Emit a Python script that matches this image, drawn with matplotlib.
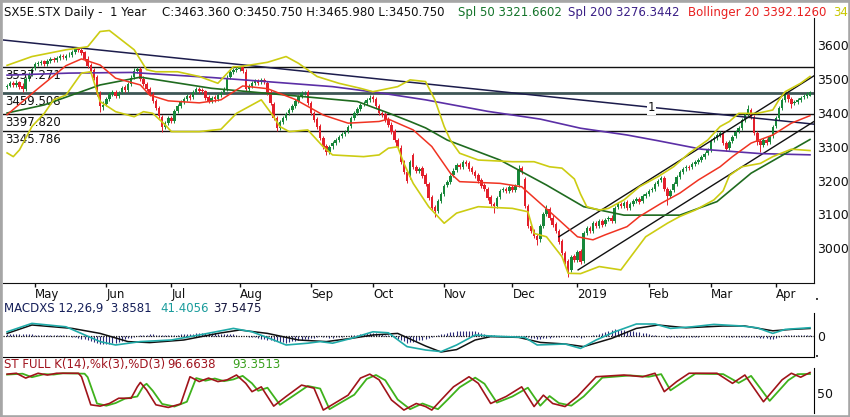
import numpy as np
import pandas as pd
import matplotlib
matplotlib.use('Agg')
import matplotlib.pyplot as plt
from matplotlib.patches import Rectangle

W, H = 850, 417

# daily candles, 18 Apr 2018 .. 16 Apr 2019
opens = [
    3478, 3481, 3490, 3483, 3491, 3480, 3472, 3502, 3516, 3532,
    3544, 3547, 3553, 3546, 3554, 3561, 3557, 3563, 3569, 3564,
    3571, 3573, 3581, 3591, 3586, 3579, 3561, 3542, 3526, 3506,
    3457, 3418, 3426, 3441, 3456, 3463, 3451, 3461, 3476, 3469,
    3486, 3506, 3524, 3531, 3501, 3486, 3471, 3456, 3436, 3414,
    3388, 3358, 3371, 3386, 3376, 3406, 3421, 3433, 3441, 3451,
    3446, 3463, 3471, 3467, 3464, 3446, 3436, 3446, 3441, 3453,
    3461, 3471, 3506, 3521, 3528, 3531, 3536, 3522, 3471, 3481,
    3489, 3496, 3491, 3499, 3490, 3461, 3428, 3386, 3356, 3373,
    3386, 3399, 3409, 3421, 3436, 3449, 3459, 3461, 3431, 3401,
    3381, 3361, 3326, 3301, 3286, 3301, 3311, 3321, 3331, 3339,
    3346, 3361, 3386, 3401, 3413, 3426, 3431, 3439, 3446, 3441,
    3421, 3401, 3396, 3381, 3366, 3346, 3321, 3298, 3256, 3226,
    3210, 3275, 3241, 3228, 3236, 3216, 3191, 3151, 3121, 3111,
    3141, 3161, 3186, 3196, 3216, 3231, 3246, 3241, 3256, 3251,
    3236, 3226, 3216, 3201, 3186, 3176, 3151, 3131, 3126, 3151,
    3171, 3176, 3169, 3181, 3173, 3186, 3236, 3205, 3126, 3066,
    3051, 3036, 3026, 3066, 3101, 3116, 3091, 3071, 3051, 3021,
    2986, 2961, 2936, 2976, 2966, 2991, 2961, 3046, 3061, 3051,
    3076, 3066, 3081, 3071, 3086, 3091, 3081, 3121, 3131, 3126,
    3136, 3119, 3131, 3141, 3146, 3139, 3156, 3161, 3171, 3176,
    3191, 3201, 3209, 3176, 3156, 3171, 3191, 3211, 3226, 3236,
    3241, 3239, 3249, 3256, 3261, 3271, 3281, 3291, 3319, 3326,
    3336, 3341, 3311, 3296, 3316, 3331, 3346, 3356, 3379, 3396,
    3410, 3389, 3341, 3316, 3306, 3321, 3313, 3331, 3361, 3386,
    3416, 3439, 3453, 3441, 3429, 3433, 3439, 3446, 3451, 3450.75,
]
highs = [
    3486, 3494, 3495, 3497, 3496, 3488, 3506, 3521, 3536, 3550,
    3554, 3557, 3558, 3561, 3566, 3566, 3569, 3574, 3575, 3576,
    3579, 3586, 3596, 3595, 3592, 3584, 3568, 3549, 3532, 3512,
    3465, 3436, 3447, 3461, 3469, 3468, 3466, 3481, 3483, 3491,
    3511, 3532, 3537, 3536, 3508, 3492, 3477, 3462, 3442, 3420,
    3395, 3377, 3391, 3392, 3411, 3427, 3438, 3446, 3456, 3457,
    3468, 3476, 3477, 3473, 3469, 3452, 3451, 3452, 3458, 3466,
    3476, 3511, 3526, 3533, 3536, 3540, 3541, 3529, 3486, 3494,
    3501, 3502, 3504, 3505, 3496, 3467, 3434, 3392, 3378, 3391,
    3404, 3414, 3426, 3441, 3454, 3464, 3466, 3467, 3437, 3407,
    3387, 3367, 3332, 3307, 3306, 3316, 3326, 3336, 3344, 3351,
    3366, 3391, 3406, 3418, 3431, 3436, 3444, 3453, 3452, 3447,
    3427, 3407, 3402, 3387, 3372, 3352, 3327, 3304, 3262, 3232,
    3262, 3283, 3247, 3241, 3242, 3222, 3197, 3157, 3127, 3146,
    3166, 3191, 3201, 3221, 3236, 3251, 3252, 3261, 3262, 3257,
    3242, 3232, 3222, 3207, 3192, 3182, 3157, 3137, 3156, 3176,
    3181, 3182, 3186, 3187, 3191, 3246, 3242, 3211, 3132, 3072,
    3057, 3042, 3071, 3106, 3128, 3122, 3097, 3077, 3057, 3027,
    2992, 2967, 2981, 2982, 2996, 2997, 3051, 3066, 3067, 3081,
    3082, 3086, 3087, 3091, 3096, 3097, 3126, 3136, 3137, 3141,
    3142, 3136, 3146, 3151, 3152, 3161, 3166, 3176, 3181, 3196,
    3206, 3214, 3215, 3182, 3176, 3196, 3216, 3231, 3241, 3246,
    3247, 3254, 3261, 3266, 3276, 3286, 3296, 3324, 3331, 3341,
    3346, 3347, 3317, 3321, 3336, 3351, 3361, 3384, 3401, 3424,
    3416, 3395, 3347, 3322, 3326, 3327, 3336, 3366, 3391, 3421,
    3444, 3458, 3459, 3447, 3438, 3444, 3451, 3456, 3461, 3465.98,
]
lows = [
    3472, 3476, 3478, 3477, 3472, 3462, 3466, 3496, 3510, 3526,
    3538, 3541, 3539, 3540, 3548, 3552, 3551, 3557, 3559, 3558,
    3565, 3567, 3575, 3579, 3572, 3554, 3534, 3519, 3499, 3449,
    3403, 3410, 3420, 3435, 3450, 3444, 3445, 3455, 3462, 3463,
    3480, 3500, 3518, 3494, 3479, 3464, 3449, 3429, 3409, 3384,
    3344, 3352, 3365, 3369, 3370, 3400, 3415, 3427, 3435, 3439,
    3440, 3457, 3460, 3459, 3439, 3429, 3430, 3434, 3435, 3447,
    3455, 3465, 3500, 3515, 3522, 3525, 3519, 3464, 3465, 3475,
    3483, 3484, 3485, 3486, 3454, 3424, 3379, 3347, 3350, 3367,
    3380, 3393, 3403, 3415, 3430, 3443, 3453, 3424, 3394, 3374,
    3354, 3319, 3294, 3276, 3280, 3295, 3305, 3315, 3325, 3333,
    3340, 3355, 3380, 3395, 3407, 3420, 3425, 3433, 3434, 3414,
    3394, 3389, 3374, 3359, 3339, 3314, 3294, 3249, 3219, 3194,
    3204, 3234, 3224, 3222, 3209, 3184, 3144, 3114, 3092, 3105,
    3135, 3155, 3180, 3190, 3210, 3225, 3234, 3235, 3244, 3229,
    3219, 3209, 3194, 3179, 3169, 3144, 3124, 3104, 3120, 3145,
    3165, 3162, 3163, 3166, 3167, 3180, 3219, 3119, 3059, 3044,
    3029, 3010, 3020, 3060, 3095, 3084, 3064, 3044, 3014, 2979,
    2954, 2915, 2930, 2959, 2960, 2954, 2955, 3040, 3044, 3045,
    3059, 3060, 3064, 3065, 3080, 3074, 3075, 3115, 3119, 3120,
    3112, 3113, 3125, 3135, 3132, 3133, 3150, 3155, 3165, 3170,
    3185, 3195, 3169, 3128, 3150, 3165, 3185, 3205, 3220, 3230,
    3232, 3233, 3243, 3250, 3255, 3265, 3275, 3285, 3313, 3320,
    3330, 3304, 3289, 3290, 3310, 3325, 3340, 3350, 3373, 3390,
    3382, 3334, 3305, 3285, 3300, 3306, 3307, 3325, 3355, 3380,
    3410, 3433, 3434, 3416, 3423, 3427, 3433, 3440, 3445, 3450.75,
]
closes = [
    3480, 3488, 3484, 3490, 3478, 3470, 3500, 3515, 3530, 3545,
    3548, 3552, 3545, 3555, 3560, 3558, 3562, 3568, 3565, 3570,
    3572, 3580, 3590, 3585, 3578, 3560, 3540, 3525, 3505, 3455,
    3420, 3425, 3440, 3455, 3462, 3450, 3460, 3475, 3468, 3485,
    3505, 3525, 3530, 3500, 3485, 3470, 3455, 3435, 3415, 3390,
    3360, 3370, 3385, 3375, 3405, 3420, 3432, 3440, 3450, 3445,
    3462, 3470, 3466, 3465, 3445, 3435, 3445, 3440, 3452, 3460,
    3470, 3505, 3520, 3527, 3530, 3535, 3525, 3470, 3480, 3488,
    3495, 3490, 3498, 3492, 3460, 3430, 3385, 3355, 3372, 3385,
    3398, 3408, 3420, 3435, 3448, 3458, 3460, 3430, 3400, 3380,
    3360, 3325, 3300, 3285, 3300, 3310, 3320, 3330, 3338, 3345,
    3360, 3385, 3400, 3412, 3425, 3430, 3438, 3445, 3440, 3420,
    3400, 3395, 3380, 3365, 3345, 3320, 3300, 3255, 3225, 3200,
    3255, 3240, 3230, 3235, 3215, 3190, 3150, 3120, 3110, 3140,
    3160, 3185, 3195, 3215, 3230, 3245, 3240, 3255, 3250, 3235,
    3225, 3215, 3200, 3185, 3175, 3150, 3130, 3125, 3150, 3170,
    3175, 3168, 3180, 3172, 3185, 3235, 3225, 3125, 3065, 3050,
    3035, 3025, 3065, 3100, 3115, 3090, 3070, 3050, 3020, 2985,
    2960, 2935, 2975, 2965, 2990, 2960, 3045, 3060, 3050, 3075,
    3065, 3080, 3070, 3085, 3090, 3080, 3120, 3130, 3125, 3135,
    3118, 3130, 3140, 3145, 3138, 3155, 3160, 3170, 3175, 3190,
    3200, 3208, 3175, 3155, 3170, 3190, 3210, 3225, 3235, 3240,
    3238, 3248, 3255, 3260, 3270, 3280, 3290, 3318, 3325, 3335,
    3340, 3310, 3295, 3315, 3330, 3345, 3355, 3378, 3395, 3412,
    3388, 3340, 3315, 3305, 3320, 3312, 3330, 3360, 3385, 3415,
    3438, 3452, 3440, 3428, 3432, 3438, 3445, 3450, 3455, 3463.36,
]

# indicator lines, read at the marked trading-day numbers
sma200_day = [0, 20, 40, 66, 85, 105, 120, 135, 155, 172, 185, 200, 210, 224, 243, 259]
sma200 = [3512, 3518, 3520, 3505, 3492, 3478, 3460, 3439, 3405, 3382, 3355, 3335, 3318,
          3293, 3280, 3276.34]

sma50_day = [0, 12, 30, 43, 66, 95, 113, 123, 130, 135, 142, 159, 174, 186, 199, 217, 229,
             240, 259]
sma50 = [3400, 3424, 3483, 3506, 3473, 3449, 3434, 3400, 3375, 3356, 3320, 3261, 3187, 3123,
         3098, 3098, 3138, 3222, 3321.66]

bb_mid_day = [0, 9, 19, 24, 30, 35, 43, 46, 52, 62, 69, 76, 84, 93, 102, 110, 120, 123, 131,
              137, 143, 146, 159, 166, 172, 178, 184, 189, 193, 200, 204, 211, 217, 223, 230,
              234, 240, 247, 253, 259]
bb_mid = [3395, 3465, 3540, 3560, 3542, 3503, 3483, 3453, 3436, 3430, 3439, 3480, 3472, 3440,
          3394, 3370, 3375, 3382, 3350, 3301, 3222, 3197, 3192, 3182, 3133, 3084, 3034, 3025,
          3040, 3064, 3094, 3133, 3163, 3202, 3241, 3271, 3311, 3335, 3370, 3392.13]

bb_up_day = [0, 8, 19, 26, 30, 33, 41, 45, 48, 55, 62, 68, 73, 75, 84, 90, 94, 100, 107, 114,
             118, 126, 130, 135, 138, 141, 143, 146, 152, 163, 170, 175, 179, 183, 185, 187,
             191, 194, 199, 204, 210, 215, 220, 226, 230, 233, 236, 242, 247, 249, 251, 256,
             259]
bb_up = [3541, 3567, 3587, 3596, 3641, 3644, 3587, 3528, 3522, 3522, 3508, 3488, 3537, 3537,
         3550, 3567, 3547, 3508, 3488, 3473, 3463, 3478, 3498, 3493, 3439, 3360, 3320, 3281,
         3261, 3256, 3256, 3241, 3237, 3205, 3160, 3123, 3113, 3118, 3143, 3182, 3212, 3241,
         3281, 3320, 3360, 3375, 3399, 3399, 3409, 3439, 3463, 3488, 3508]

bb_lo_day = [0, 2, 4, 8, 12, 15, 19, 24, 27, 30, 35, 41, 44, 47, 51, 53, 62, 69, 74, 82, 86,
             88, 91, 97, 102, 105, 115, 120, 123, 126, 128, 131, 136, 141, 145, 152, 163, 168,
             170, 174, 179, 181, 185, 191, 198, 202, 206, 213, 217, 222, 228, 231, 233, 237,
             243, 247, 253, 259]
bb_lo = [3282, 3271, 3291, 3360, 3399, 3439, 3453, 3518, 3522, 3434, 3404, 3389, 3404, 3399,
         3365, 3345, 3345, 3352, 3399, 3439, 3389, 3360, 3345, 3350, 3300, 3276, 3271, 3276,
         3296, 3300, 3251, 3192, 3123, 3074, 3104, 3123, 3118, 3108, 3044, 3034, 2975, 2926,
         2925, 2946, 2936, 2985, 3034, 3074, 3094, 3113, 3143, 3170, 3215, 3241, 3251, 3271,
         3293, 3289]

macd_day = [0, 8, 19, 30, 35, 43, 53, 62, 73, 79, 86, 90, 97, 101, 105, 111, 118, 123, 129,
            135, 140, 145, 151, 156, 167, 171, 180, 185, 190, 196, 203, 209, 214, 221, 228,
            237, 242, 247, 251, 259]
macd = [21, 63, 46, -28, -45, -28, -20, 5, 38, 21, -20, -45, -36, -28, -36, -12, 21, 16, -53,
        -70, -78, -45, 5, 0, -7, -45, -40, -62, -20, 21, 60, 60, 38, 46, 58, 50, 41, 13, 33,
        41.41]

signal_day = [0, 8, 21, 30, 39, 46, 57, 68, 75, 84, 94, 103, 111, 118, 126, 135, 140, 145,
              151, 156, 165, 172, 180, 186, 195, 203, 210, 219, 231, 238, 247, 253, 259]
signal = [13, 55, 38, 13, -28, -33, -20, 13, 30, 13, -20, -28, -12, 5, 13, -50, -80, -68,
          -20, -3, -7, -32, -40, -53, -12, 38, 55, 41, 50, 50, 26, 33, 37.55]

macd_hist = [
    8, 8, 8, 8, 8, 8, 8, 8, 8, 7,
    7, 6, 6, 6, 5, 5, 5, 4, 4, 4,
    0, -3, -6, -10, -13, -16, -20, -25, -30, -36,
    -41, -40, -39, -38, -36, -35, -29, -23, -17, -12,
    -8, -4, 0, 3, 5, 7, 8, 8, 7, 7,
    6, 6, 5, 5, 6, 7, 8, 9, 10, 11,
    12, 14, 15, 15, 14, 14, 13, 13, 12, 12,
    12, 12, 12, 12, 6, 0, -1, -2, -3, -4,
    -7, -10, -13, -16, -19, -22, -25, -27, -29, -31,
    -33, -30, -27, -24, -21, -18, -16, -14, -11, -8,
    -5, -2, -4, -6, -8, -9, -7, -5, -3, -1,
    1, 3, 5, 7, 9, 11, 13, 15, 16, 14,
    11, 9, 6, 4, -2, -8, -14, -20, -27, -33,
    -30, -28, -25, -22, -20, -17, -12, -7, -2, 4,
    9, 12, 16, 19, 22, 25, 25, 25, 25, 25,
    25, 25, 21, 16, 12, 7, 3, 3, 2, 2,
    1, 1, 1, 0, 0, 0, -2, -5, -7, -10,
    -12, -15, -13, -12, -10, -8, -7, -5, -3, -2,
    0, -2, -4, -5, -7, -9, -6, -2, 1, 4,
    7, 10, 15, 19, 24, 28, 33, 31, 30, 28,
    27, 25, 24, 22, 19, 16, 13, 10, 6, 3,
    1, -1, -2, -4, -5, -5, -4, -4, -4, -3,
    -3, -3, -3, -3, -2, -2, -2, -2, -2, -2,
    -2, -2, -3, -3, -3, -3, -3, -3, -3, -4,
    -4, -5, -5, -8, -10, -12, -14, -15, -10, -5,
    -1, 3, 3, 3, 4, 4, 4, 4, 4, 3.86,
]

stoch_k_day = [0, 3, 6, 10, 13, 16, 23, 24, 27, 30, 33, 36, 40, 42, 43, 45, 48, 52, 56, 59,
               62, 65, 68, 71, 74, 77, 79, 82, 86, 90, 95, 99, 102, 110, 114, 117, 120, 124,
               128, 132, 135, 137, 140, 144, 149, 152, 156, 161, 166, 170, 173, 176, 180,
               184, 190, 199, 205, 209, 212, 216, 220, 229, 234, 238, 244, 250, 253, 256, 259]
stoch_k = [93, 95, 84, 95, 91, 95, 95, 87, 23, 20, 26, 38, 38, 64, 74, 57, 23, 17, 25, 87,
           76, 84, 76, 80, 91, 72, 53, 64, 20, 42, 68, 61, 11, 45, 84, 93, 80, 34,
           11, 26, 19, 11, 34, 64, 87, 72, 26, 42, 64, 19, 45, 26, 19,
           42, 87, 91, 87, 95, 53, 76, 95, 95, 72, 91, 30, 80, 95, 86, 96.66]

stoch_d_day = [0, 5, 8, 12, 15, 18, 25, 26, 29, 32, 35, 38, 42, 44, 45, 47, 50, 54, 58, 61,
               64, 67, 70, 73, 76, 79, 81, 84, 88, 92, 97, 101, 104, 112, 116, 119, 122, 126,
               130, 134, 137, 139, 142, 146, 151, 154, 158, 163, 168, 172, 175, 178, 182,
               186, 192, 201, 207, 211, 214, 218, 222, 231, 236, 240, 246, 252, 255, 259]
stoch_d = [92, 94, 86, 93, 92, 95, 94, 86, 26, 21, 27, 37, 42, 66, 71, 55, 25, 19, 30, 84,
           78, 83, 77, 81, 89, 72, 55, 62, 23, 42, 66, 60, 13, 46, 82, 91, 79, 35,
           13, 26, 18, 13, 34, 63, 85, 71, 28, 42, 62, 21, 43, 27, 21,
           42, 85, 90, 87, 93, 56, 75, 94, 93, 73, 89, 32, 79, 93, 93.35]

levels = [3537.271, 3459.508, 3397.820, 3345.786]
trend_day = [-1.32, 260.3]
trend_price = [3616, 3367]
chan_up_day = [178.0, 260.3]
chan_up_price = [3034, 3510]
chan_lo_day = [184.2, 260.3]
chan_lo_price = [2936, 3375]

UP = '#17873a'
DOWN = '#e3202c'
XLIM = (-1.32, 260.3)


def px_rect(x0, y0, x1, y1):
    return [x0 / W, 1 - y1 / H, (x1 - x0) / W, (y1 - y0) / H]


def ftext(fig, x, y, s, color, size=8.5, **kw):
    fig.text(x / W, 1 - y / H, s, color=color, fontsize=size, va='baseline', **kw)


def main():
    plt.rcParams['font.family'] = 'DejaVu Sans'
    fig = plt.figure(figsize=(W / 100, H / 100), dpi=100)
    fig.patch.set_facecolor('white')

    n = len(closes)
    days = np.arange(n)
    dates = pd.bdate_range('2018-04-18', periods=n)
    o = np.array(opens, float)
    c = np.array(closes, float)
    hi = np.array(highs, float)
    lo = np.array(lows, float)

    # ---- price panel
    ax = fig.add_axes(px_rect(3, 18, 814, 283))
    ax.set_xlim(*XLIM)
    ax.set_ylim(2897.3, 3681)
    up = c >= o
    cols = np.where(up, UP, DOWN)
    ax.vlines(days, lo, hi, colors=cols, lw=0.7, zorder=2)
    body = np.maximum(np.abs(c - o), 1.5)
    ax.bar(days, body, bottom=np.minimum(o, c), width=0.8, color=cols, lw=0, zorder=2)

    for lv in levels:
        if lv == 3459.508:
            ax.axhline(lv, color='#3e5656', lw=2.0, zorder=1)
        else:
            ax.axhline(lv, color='#111111', lw=1.0, zorder=1)
        ax.annotate('%.3f' % lv, xy=(0.003, lv), xycoords=('axes fraction', 'data'),
                    xytext=(0, -12), textcoords='offset pixels', fontsize=8.5,
                    color='#111111', va='baseline', ha='left')

    ax.plot(trend_day, trend_price, color='#1c1c4c', lw=1.1, zorder=3)
    ax.text(208, np.interp(208, trend_day, trend_price), '1', ha='center', va='center',
            fontsize=8.5, color='#111111', zorder=4,
            bbox=dict(fc='white', ec='none', pad=0.6))
    ax.plot(chan_up_day, chan_up_price, color='#111111', lw=1.0, zorder=3)
    ax.plot(chan_lo_day, chan_lo_price, color='#111111', lw=1.0, zorder=3)

    ax.plot(sma200_day, sma200, color='#5b2fa6', lw=1.2, zorder=3)
    ax.plot(sma50_day, sma50, color='#1f6b1f', lw=1.2, zorder=3)
    ax.plot(bb_up_day, bb_up, color='#cccc12', lw=1.2, zorder=3)
    ax.plot(bb_lo_day, bb_lo, color='#cccc12', lw=1.2, zorder=3)
    ax.plot(bb_mid_day, bb_mid, color='#f03322', lw=1.1, zorder=3)

    ax.yaxis.tick_right()
    ax.set_yticks([3000, 3100, 3200, 3300, 3400, 3500, 3600])
    ax.tick_params(axis='y', length=0, pad=2, labelsize=9, colors='#111111')
    starts = [i for i in range(1, n) if dates[i].month != dates[i - 1].month]
    mlabels = ['2019' if dates[i].month == 1 else dates[i].strftime('%b') for i in starts]
    ax.set_xticks(starts)
    ax.set_xticklabels(mlabels)
    ax.tick_params(axis='x', length=3, width=1, pad=0.5, labelsize=8.5, colors='#111111')
    for lab in ax.get_xticklabels():
        lab.set_ha('left')
    for s in ['top', 'left']:
        ax.spines[s].set_visible(False)
    ax.spines['right'].set_color('#111111')
    ax.spines['bottom'].set_color('#111111')

    # ---- MACD panel
    am = fig.add_axes(px_rect(3, 313, 814, 357))
    am.set_xlim(*XLIM)
    am.set_ylim(-105, 115)
    am.vlines(days, 0, macd_hist, colors='#2a2a78', lw=0.8)
    am.axhline(0, color='#111111', lw=0.9, ls=(0, (1, 1)))
    am.plot(signal_day, signal, color='#111111', lw=1.1)
    am.plot(macd_day, macd, color='#1faaa8', lw=1.2)
    am.yaxis.tick_right()
    am.set_yticks([0])
    am.tick_params(axis='y', length=0, pad=2, labelsize=9, colors='#111111')
    am.set_xticks([])
    for s in ['top', 'left']:
        am.spines[s].set_visible(False)

    # ---- stochastic panel
    ast = fig.add_axes(px_rect(3, 368, 814, 413))
    ast.set_xlim(*XLIM)
    ast.set_ylim(4.3, 107)
    ast.plot(stoch_d_day, stoch_d, color='#3fb21c', lw=1.3)
    ast.plot(stoch_k_day, stoch_k, color='#a0141a', lw=1.2)
    ast.yaxis.tick_right()
    ast.set_yticks([50])
    ast.tick_params(axis='y', length=0, pad=2, labelsize=9, colors='#111111')
    ast.set_xticks([])
    for s in ['top', 'left', 'bottom']:
        ast.spines[s].set_visible(False)

    # ---- headers
    ftext(fig, 4, 16, 'SX5E.STX Daily -  1 Year', '#111111')
    ftext(fig, 162, 16, 'C:3463.360 O:3450.750 H:3465.980 L:3450.750', '#111111')
    ftext(fig, 458, 16, 'Spl 50 3321.6602', '#14742a')
    ftext(fig, 568, 16, 'Spl 200 3276.3442', '#3a1f86')
    ftext(fig, 688, 16, 'Bollinger 20 3392.1260', '#e82020')
    ftext(fig, 833, 16, '34', '#c8c800')

    ftext(fig, 4, 312, 'MACDXS 12,26,9  3.8581', '#16205a')
    ftext(fig, 160, 312, '41.4056', '#1a9c9c')
    ftext(fig, 213, 312, '37.5475', '#16163e')
    ftext(fig, 4, 368, 'ST FULL K(14),%k(3),%D(3)', '#a0141e')
    ftext(fig, 167, 368, '96.6638', '#a0141e')
    ftext(fig, 232, 368, '93.3513', '#3aa01e')
    ftext(fig, 815, 302, '\u2022', '#111111', size=5)
    ftext(fig, 815, 359, '\u2022', '#111111', size=5)

    # outer frame
    fig.patches.append(Rectangle((0.5 / W, 0.5 / H), 1 - 1 / W, 1 - 1 / H,
                                 transform=fig.transFigure, fill=False,
                                 ec='#a6a6a6', lw=2.6, zorder=10))

    fig.savefig('out.png', dpi=100)


if __name__ == '__main__':
    main()
